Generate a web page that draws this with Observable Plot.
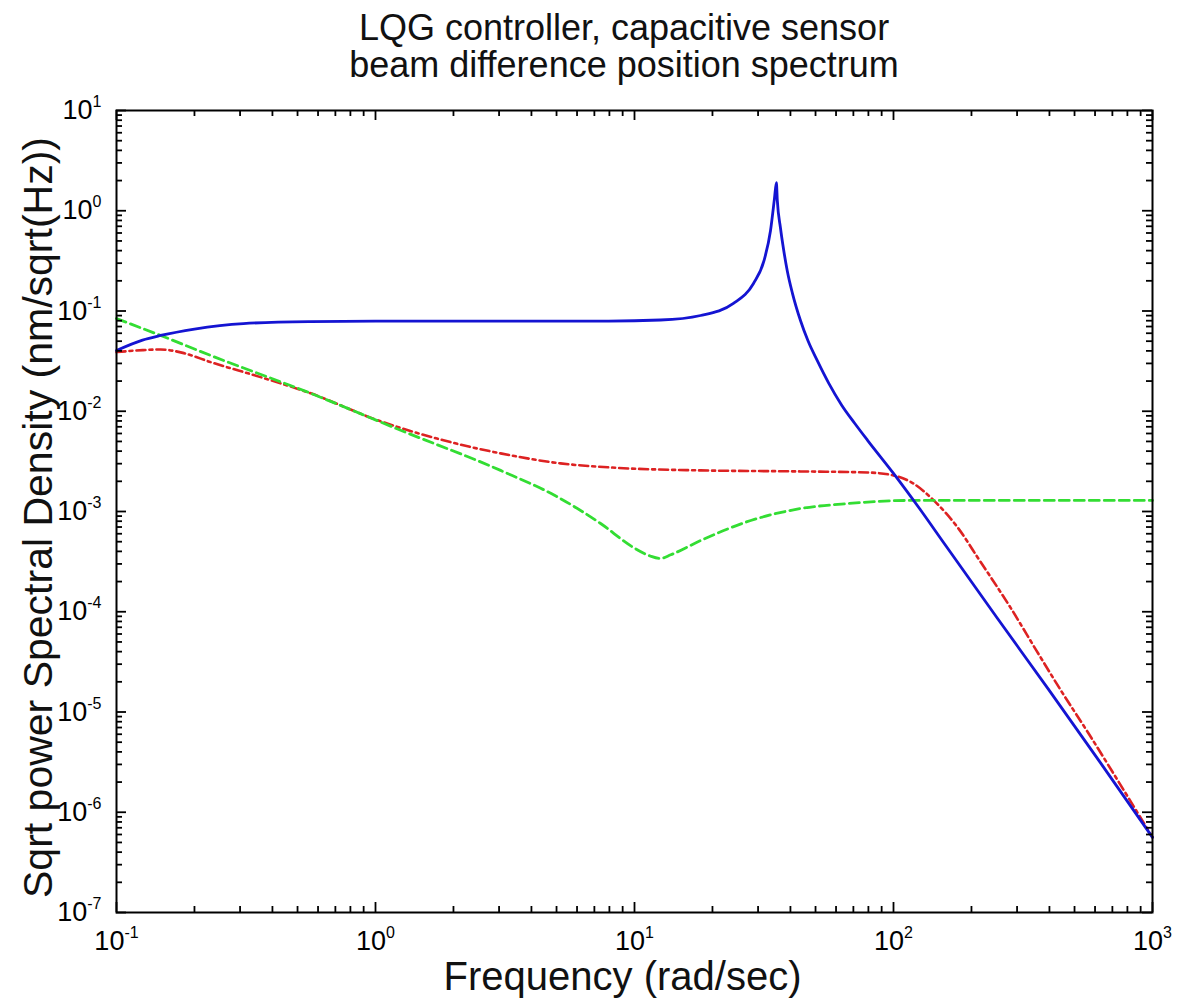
<!DOCTYPE html>
<html>
<head>
<meta charset="utf-8">
<script src="https://cdn.jsdelivr.net/npm/d3@7"></script>
<script src="https://cdn.jsdelivr.net/npm/@observablehq/plot@0.6"></script>
<style>
  html, body { margin: 0; padding: 0; background: white; }
  body { width: 1177px; height: 1003px; overflow: hidden; font-family: "Liberation Sans", Arial, Helvetica, sans-serif; }
  #title { box-sizing: border-box; height: 95px; padding: 9px 45px 0 116px; text-align: center; font-size: 36px; line-height: 37px; color: #111; }
  #chart svg { display: block; }
</style>
</head>
<body>
<div id="title">LQG controller, capacitive sensor<br>beam difference position spectrum</div>
<div id="chart"></div>
<script>
// ---- Data (frequency in rad/sec, PSD in nm/sqrt(Hz)) ----
const blueFreq = [0.1, 0.126, 0.148, 0.2, 0.309, 0.562, 1, 3.16, 7.94, 12.6, 18.0, 24.1, 28.8, 31.6, 33.5, 34.7, 35.3, 35.6, 36.6, 37.6, 38.9, 40.7, 43.8, 46.8, 50.9, 56.2, 63.1, 70.8, 79.4, 100, 126, 158, 251, 398, 631, 1000];
const blueVal  = [0.0404, 0.0513, 0.0570, 0.0661, 0.0750, 0.0785, 0.0794, 0.0794, 0.0794, 0.0813, 0.0902, 0.119, 0.188, 0.316, 0.631, 1.32, 1.91, 1.26, 0.676, 0.417, 0.251, 0.151, 0.0794, 0.0501, 0.0316, 0.0191, 0.0115, 0.00759, 0.00513, 0.0024, 0.00107, 4.68e-4, 8.71e-5, 1.66e-5, 3.09e-6, 5.62e-7];

const redFreq = [0.1, 0.126, 0.148, 0.182, 0.231, 0.360, 0.562, 1.02, 1.83, 3.04, 5.18, 8.07, 18.0, 43.8, 79.4, 100, 119, 143, 177, 214, 283, 355, 447, 562, 741, 1000];
const redVal  = [0.0389, 0.0407, 0.0413, 0.038, 0.0309, 0.0219, 0.0151, 0.00813, 0.00513, 0.0038, 0.00302, 0.00275, 0.00257, 0.00251, 0.00245, 0.00229, 0.00191, 0.00129, 6.92e-4, 3.31e-4, 1.10e-4, 4.17e-5, 1.58e-5, 6.31e-6, 2.0e-6, 5.62e-7];

const greenFreq = [0.1, 0.148, 0.231, 0.562, 1.25, 3.04, 5.01, 7.40, 9.91, 11.5, 12.6, 13.8, 18.0, 28.1, 43.8, 66.4, 119, 316, 1000];
const greenVal  = [0.0841, 0.057, 0.036, 0.0151, 0.00646, 0.00257, 0.00141, 7.59e-4, 4.37e-4, 3.6e-4, 3.4e-4, 3.7e-4, 5.13e-4, 8.13e-4, 0.00107, 0.0012, 0.00129, 0.00129, 0.00129];

const xTickValues = [0.1, 1, 10, 100, 1000];
const yTickValues = [1e-7, 1e-6, 1e-5, 1e-4, 1e-3, 1e-2, 1e-1, 1, 10];
const xLabel = "Frequency (rad/sec)";
const yLabel = "Sqrt power Spectral Density (nm/sqrt(Hz))";

// ---- build tables ----
const toRows = (fs, vs) => fs.map((f, i) => ({f, v: vs[i]}));
const blue = toRows(blueFreq, blueVal);
const red = toRows(redFreq, redVal);
const green = toRows(greenFreq, greenVal);

const xMinor = d3.scaleLog().domain([0.1, 1000]).ticks().filter(t => !xTickValues.some(m => Math.abs(m - t) / m < 1e-9));
const yMinor = d3.scaleLog().domain([1e-7, 10]).ticks().filter(t => !yTickValues.some(m => Math.abs(m - t) / m < 1e-9));

const W = 1177, H = 908, mL = 116, mR = 25, mT = 15, mB = 91;
const fw = W - mL - mR, fh = H - mT - mB;
const major = 10, minor = 6;
const tickStyle = {stroke: "black", strokeWidth: 1.8};
const fmt = d => `10^${Math.round(Math.log10(d))}`;

const plot = Plot.plot({
  width: W, height: H,
  marginLeft: mL, marginRight: mR, marginTop: mT, marginBottom: mB,
  x: {type: "log", domain: [0.1, 1000]},
  y: {type: "log", domain: [1e-7, 10]},
  style: {fontFamily: "'Liberation Sans', Arial, Helvetica, sans-serif", background: "white", color: "black", overflow: "visible"},
  marks: [
    Plot.line(red, {x: "f", y: "v", stroke: "#dd2222", strokeWidth: 2.6, strokeDasharray: "9,4,3,4", curve: "monotone-x"}),
    Plot.line(green, {x: "f", y: "v", stroke: "#33dd33", strokeWidth: 2.8, strokeDasharray: "10,5", curve: "monotone-x"}),
    Plot.line(blue, {x: "f", y: "v", stroke: "#1414d2", strokeWidth: 2.8, curve: "monotone-x"}),
    // inward ticks on all four sides
    Plot.ruleX(xTickValues, {...tickStyle, insetTop: fh - major}),
    Plot.ruleX(xTickValues, {...tickStyle, insetBottom: fh - major}),
    Plot.ruleX(xMinor, {...tickStyle, insetTop: fh - minor}),
    Plot.ruleX(xMinor, {...tickStyle, insetBottom: fh - minor}),
    Plot.ruleY(yTickValues, {...tickStyle, insetRight: fw - major}),
    Plot.ruleY(yTickValues, {...tickStyle, insetLeft: fw - major}),
    Plot.ruleY(yMinor, {...tickStyle, insetRight: fw - minor}),
    Plot.ruleY(yMinor, {...tickStyle, insetLeft: fw - minor}),
    Plot.frame({stroke: "black", strokeWidth: 2}),
    Plot.axisX(xTickValues, {anchor: "bottom", tickSize: 0, tickPadding: 18, tickFormat: fmt, fontSize: 27, label: null}),
    Plot.axisY(yTickValues, {anchor: "left", tickSize: 0, tickPadding: 15, tickFormat: fmt, fontSize: 27, label: null}),
    Plot.text([xLabel], {text: d => d, frameAnchor: "bottom", textAnchor: "middle", dy: 77, dx: -12, fontSize: 40, fill: "#111"}),
    Plot.text([yLabel], {text: d => d, frameAnchor: "left", textAnchor: "middle", rotate: -90, dx: -78, dy: 6, fontSize: 41, fill: "#111"})
  ]
});

// render exponents as superscripts
d3.select(plot).selectAll("text").each(function() {
  const m = this.textContent.match(/^10\^(-?\d+)$/);
  if (!m) return;
  const t = d3.select(this);
  t.text(null);
  t.append("tspan").text("10");
  t.append("tspan").attr("dy", -12).attr("font-size", 16).text(m[1]);
});

document.getElementById("chart").appendChild(plot);
</script>
</body>
</html>
